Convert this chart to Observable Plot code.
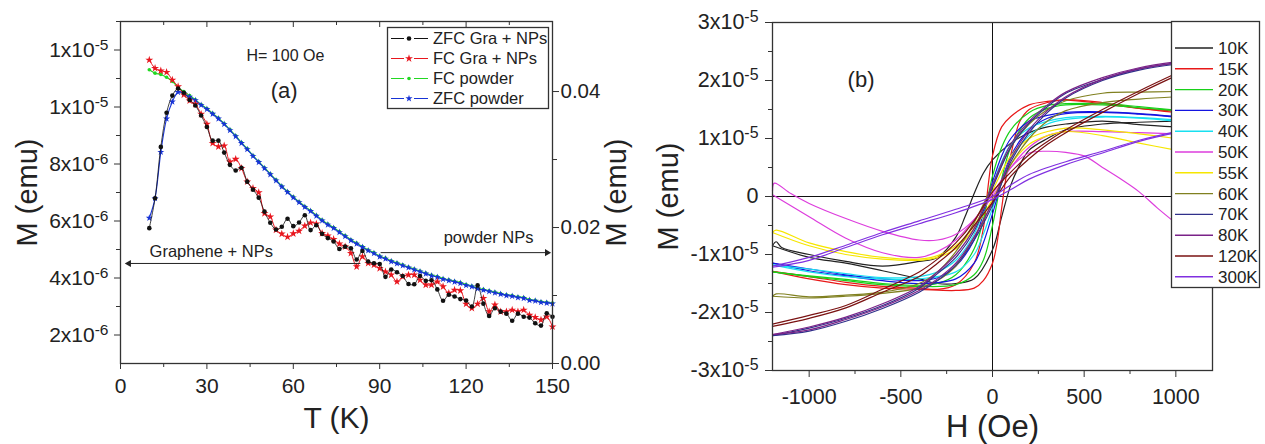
<!DOCTYPE html>
<html><head><meta charset="utf-8">
<script src="https://cdn.jsdelivr.net/npm/d3@7"></script>
<script src="https://cdn.jsdelivr.net/npm/@observablehq/plot@0.6"></script>
<style>
body{margin:0;background:#fff;}
#wrap{position:relative;width:1265px;height:444px;overflow:hidden;background:#fff}
#wrap svg{position:absolute;top:0}
</style></head><body><div id="wrap"></div>
<script>
// ================= DATA : panel (a) =================
const tempsA = [10,12,14,16,18,20,22,24,26,28, 30,32,34,36,38,40,42,44,46,48,
  50,52,54,56,58,60,62,64,66,68, 70,72,74,76,78,80,82,84,86,88,
  90,92,94,96,98,100,102,104,106,108, 110,112,114,116,118,120,122,124,126,128,
  130,132,134,136,138,140,142,144,146,148, 150];
// graphene + NPs (left axis, units of 1e-6 emu)
const zfcGra = [5.75,6.8,8.6,9.8,10.4,10.65,10.5,10.25,10.05,9.7,
  9.3,8.82,8.82,8.4,7.97,7.77,7.87,7.38,7.1,6.82,
  6.33,5.94,5.7,5.8,6.08,5.82,5.95,6.2,5.68,5.85,
  5.55,5.4,5.28,5.02,5.1,5.04,4.65,4.95,4.58,4.52,
  4.49,4.04,4.3,4.2,4.07,3.79,3.78,4.07,3.9,3.92,
  3.6,3.2,3.41,3.35,3.26,3.21,3.0,3.74,3.1,2.67,
  2.94,2.82,2.75,2.5,2.75,2.64,2.61,2.41,2.33,2.76, 2.64];
const fcGra = [11.65,11.36,11.27,11.22,10.95,10.72,10.43,10.22,10.1,9.75,
  9.4,8.73,8.61,8.64,8.08,8.17,7.85,7.38,7.15,7.0,
  6.27,6.15,5.69,5.55,5.44,5.56,5.65,5.83,5.94,5.9,
  5.57,5.48,5.36,5.2,5.1,4.87,4.4,4.75,4.52,4.46,
  4.34,4.22,4.11,3.87,4.05,4.11,4.11,3.93,3.76,3.76,
  3.87,3.7,3.47,3.58,3.56,3.09,2.94,3.09,3.29,2.82,
  3.06,2.82,2.82,2.88,2.82,2.88,2.7,2.62,2.53,2.64, 2.29];
// powder NPs (right axis, emu)
const fcPowder = [0.0432,0.0427,0.0425,0.0421,0.0415,0.0406,0.0400,0.0394,0.0388,0.0381,
  0.0375,0.0368,0.0361,0.0353,0.0344,0.0335,0.0325,0.0316,0.0306,0.0297,
  0.0288,0.0279,0.0270,0.0261,0.0253,0.0245,0.0238,0.0231,0.0225,0.0218,
  0.0211,0.0205,0.0200,0.0194,0.0188,0.0182,0.0177,0.0172,0.0167,0.0163,
  0.0158,0.0155,0.0151,0.0148,0.0145,0.0142,0.0139,0.0136,0.0133,0.0130,
  0.0128,0.0125,0.0123,0.0121,0.0119,0.0116,0.0114,0.0111,0.0109,0.0107,
  0.0105,0.0103,0.0101,0.0100,0.0098,0.0097,0.0094,0.0093,0.0091,0.0090, 0.0089];
const zfcPowder = [0.0214,0.0243,0.0311,0.0360,0.0385,0.0399,0.0397,0.0392,0.0387,0.0380,
  0.0374,0.0367,0.0360,0.0352,0.0343,0.0334,0.0324,0.0315,0.0305,0.0296,
  0.0287,0.0278,0.0269,0.0260,0.0252,0.0244,0.0237,0.0230,0.0224,0.0217,
  0.0210,0.0204,0.0199,0.0193,0.0187,0.0181,0.0176,0.0171,0.0166,0.0162,
  0.0157,0.0154,0.0150,0.0147,0.0144,0.0141,0.0138,0.0135,0.0132,0.0129,
  0.0127,0.0124,0.0122,0.0120,0.0118,0.0115,0.0113,0.0110,0.0108,0.0106,
  0.0104,0.0102,0.0100,0.0099,0.0097,0.0096,0.0093,0.0092,0.0090,0.0089, 0.0088];
const seriesA = ["ZFC Gra + NPs","FC Gra + NPs","FC powder","ZFC powder"];
const xTicksA = [0,30,60,90,120,150];
const xMinorA = [15,45,75,105,135];
const yTicksA = [2,4,6,8,10,12];
const yLabelsA = ["2x10^-6","4x10^-6","6x10^-6","8x10^-6","1x10^-5","1x10^-5"];
const yMinorA = [3,5,7,9,11,13];
const rTicksA = [0,0.02,0.04];
const rMinorA = [0.01,0.03];

// ================= DATA : panel (b)  (H in Oe, M in 1e-5 emu) =================
const loopTemps = ["10K","15K","20K","30K","40K","50K","55K","60K","70K","80K","120K","300K"];
const loop10K_dn = [[1000,1.2],[800,1.24],[600,1.3],[400,1.25],[300,1.2],[200,1.1],[100,0.92],[0,0.63],[-50,0.4],[-100,0.05],[-150,-0.35],[-200,-0.7],[-300,-1.05],[-400,-1.12],[-600,-1.2],[-800,-1.12],[-1000,-1.0],[-1150,-0.88],[-1180,-0.78],[-1200,-0.85]];
const loop10K_up = [[-1200,-0.85],[-1000,-1.05],[-800,-1.15],[-600,-1.28],[-400,-1.42],[-300,-1.5],[-200,-1.5],[-100,-1.42],[0,-0.92],[50,-0.35],[100,0.2],[150,0.55],[200,0.8],[300,1.0],[400,1.15],[600,1.25],[800,1.28],[1000,1.3]];
const loop15K_dn = [[1000,1.47],[800,1.52],[600,1.6],[400,1.66],[300,1.64],[200,1.58],[100,1.38],[50,1.2],[0,0.7],[-25,0.15],[-50,-0.55],[-100,-1.15],[-200,-1.52],[-300,-1.6],[-400,-1.58],[-600,-1.55],[-800,-1.48],[-1000,-1.38],[-1200,-1.29]];
const loop15K_up = [[-1200,-1.29],[-1000,-1.42],[-800,-1.52],[-600,-1.58],[-400,-1.6],[-200,-1.62],[-100,-1.58],[-50,-1.45],[0,-1.15],[25,-0.8],[50,-0.2],[75,0.35],[100,0.72],[150,1.3],[200,1.5],[300,1.62],[400,1.67],[600,1.62],[800,1.52],[1000,1.45]];
const loop20K_dn = [[1000,1.49],[800,1.55],[600,1.6],[400,1.6],[300,1.57],[200,1.45],[100,1.15],[50,0.85],[0,0.35],[-50,-0.4],[-100,-0.9],[-200,-1.35],[-300,-1.5],[-400,-1.53],[-600,-1.5],[-800,-1.43],[-1000,-1.37],[-1200,-1.3]];
const loop20K_up = [[-1200,-1.3],[-1000,-1.38],[-800,-1.45],[-600,-1.52],[-400,-1.55],[-200,-1.52],[-100,-1.35],[-50,-1.1],[0,-0.5],[50,0.3],[100,0.85],[200,1.35],[300,1.52],[400,1.58],[600,1.58],[800,1.53],[1000,1.48]];
const loop30K_dn = [[1000,1.38],[800,1.43],[600,1.46],[400,1.45],[300,1.4],[200,1.3],[100,1.0],[50,0.7],[0,0.25],[-50,-0.3],[-100,-0.75],[-200,-1.2],[-300,-1.4],[-400,-1.45],[-600,-1.42],[-800,-1.35],[-1000,-1.25],[-1200,-1.15]];
const loop30K_up = [[-1200,-1.15],[-1000,-1.28],[-800,-1.37],[-600,-1.45],[-400,-1.5],[-200,-1.42],[-100,-1.15],[-50,-0.8],[0,-0.3],[50,0.25],[100,0.7],[200,1.15],[300,1.35],[400,1.43],[600,1.45],[800,1.42],[1000,1.37]];
const loop40K_dn = [[1000,1.32],[800,1.36],[600,1.38],[400,1.36],[300,1.3],[200,1.18],[100,0.9],[50,0.6],[0,0.2],[-50,-0.25],[-100,-0.65],[-200,-1.1],[-300,-1.3],[-400,-1.38],[-600,-1.4],[-800,-1.33],[-1000,-1.25],[-1200,-1.18]];
const loop40K_up = [[-1200,-1.18],[-1000,-1.3],[-800,-1.38],[-600,-1.42],[-400,-1.42],[-200,-1.3],[-100,-1.0],[-50,-0.65],[0,-0.2],[50,0.25],[100,0.65],[200,1.05],[300,1.25],[400,1.33],[600,1.37],[800,1.35],[1000,1.3]];
const loop50K_dn = [[1000,1.08],[800,1.1],[600,1.12],[400,1.12],[300,1.05],[200,0.85],[100,0.5],[0,0.0],[-100,-0.4],[-200,-0.65],[-300,-0.75],[-400,-0.75],[-600,-0.6],[-800,-0.38],[-1000,-0.12],[-1100,0.05],[-1190,0.23],[-1200,0.1]];
const loop50K_up = [[-1200,0.03],[-1000,-0.35],[-800,-0.72],[-600,-0.97],[-400,-1.05],[-300,-0.95],[-200,-0.75],[-100,-0.4],[0,0.05],[100,0.5],[200,0.75],[300,0.78],[400,0.76],[500,0.7],[600,0.5],[700,0.3],[800,0.08],[900,-0.2],[1000,-0.46]];
const loop55K_dn = [[1000,1.0],[800,1.08],[600,1.15],[400,1.18],[300,1.12],[200,1.0],[100,0.7],[0,0.1],[-100,-0.5],[-200,-0.85],[-300,-1.02],[-400,-1.08],[-600,-1.05],[-800,-0.95],[-1000,-0.8],[-1180,-0.58],[-1200,-0.62]];
const loop55K_up = [[-1200,-0.62],[-1000,-0.85],[-800,-1.0],[-600,-1.08],[-400,-1.1],[-300,-1.05],[-200,-0.9],[-100,-0.55],[0,-0.05],[100,0.55],[200,0.9],[300,1.05],[400,1.12],[600,1.05],[800,0.92],[1000,0.8]];
const loop60K_dn = [[1000,1.81],[800,1.8],[600,1.78],[400,1.65],[300,1.5],[200,1.25],[100,0.85],[0,0.2],[-100,-0.45],[-200,-0.95],[-300,-1.3],[-400,-1.5],[-600,-1.65],[-800,-1.7],[-1000,-1.73],[-1180,-1.68],[-1200,-1.72]];
const loop60K_up = [[-1200,-1.72],[-1000,-1.75],[-800,-1.72],[-600,-1.67],[-400,-1.58],[-300,-1.45],[-200,-1.2],[-100,-0.7],[0,-0.1],[100,0.55],[200,1.0],[300,1.3],[400,1.48],[600,1.62],[800,1.68],[1000,1.72]];
const loop70K_dn = [[1000,2.3],[800,2.2],[600,2.02],[400,1.78],[300,1.55],[200,1.27],[100,0.85],[0,0.15],[-100,-0.6],[-200,-1.05],[-300,-1.33],[-400,-1.58],[-600,-1.88],[-800,-2.1],[-1000,-2.27],[-1200,-2.4]];
const loop70K_up = [[-1200,-2.4],[-1000,-2.32],[-800,-2.15],[-600,-1.93],[-400,-1.65],[-300,-1.45],[-200,-1.18],[-100,-0.75],[0,-0.15],[100,0.6],[200,1.1],[300,1.45],[400,1.7],[600,2.0],[800,2.18],[1000,2.28]];
const loop80K_dn = [[1000,2.32],[800,2.22],[600,2.05],[400,1.8],[300,1.58],[200,1.3],[100,0.9],[0,0.2],[-100,-0.55],[-200,-1.0],[-300,-1.3],[-400,-1.55],[-600,-1.85],[-800,-2.08],[-1000,-2.25],[-1200,-2.38]];
const loop80K_up = [[-1200,-2.38],[-1000,-2.3],[-800,-2.12],[-600,-1.9],[-400,-1.62],[-300,-1.42],[-200,-1.15],[-100,-0.7],[0,-0.1],[100,0.65],[200,1.15],[300,1.48],[400,1.72],[600,2.02],[800,2.2],[1000,2.3]];
const loop120K_dn = [[1000,2.12],[800,1.82],[600,1.5],[400,1.15],[300,0.95],[200,0.72],[100,0.42],[0,0.08],[-100,-0.42],[-200,-0.8],[-300,-1.08],[-400,-1.3],[-600,-1.6],[-800,-1.88],[-1000,-2.05],[-1200,-2.2]];
const loop120K_up = [[-1200,-2.24],[-1000,-2.1],[-800,-1.92],[-600,-1.65],[-400,-1.38],[-300,-1.15],[-200,-0.88],[-100,-0.5],[0,-0.1],[100,0.35],[200,0.65],[300,0.9],[400,1.1],[600,1.45],[800,1.78],[1000,2.08]];
const loop300K_dn = [[1000,1.12],[800,0.97],[600,0.78],[400,0.6],[200,0.38],[100,0.2],[0,0.0],[-200,-0.22],[-400,-0.42],[-600,-0.62],[-800,-0.84],[-1000,-1.05],[-1200,-1.2]];
const loop300K_up = [[-1200,-1.22],[-1000,-1.1],[-800,-0.88],[-600,-0.66],[-400,-0.47],[-200,-0.28],[0,-0.05],[100,0.12],[200,0.3],[400,0.55],[600,0.75],[800,0.95],[1000,1.1]];
const xTicksB = [-1000,-500,0,500,1000];
const xMinorB = [-750,-250,250,750];
const yTicksB = [-3,-2,-1,0,1,2,3];
const yLabelsB = ["-3x10^-5","-2x10^-5","-1x10^-5","0","1x10^-5","2x10^-5","3x10^-5"];
const yMinorB = [-2.5,-1.5,-0.5,0.5,1.5,2.5];

// ================= STYLE =================
const FONT = '"Liberation Sans", Arial, Helvetica, sans-serif';
const TXT = "#222", AX = "#333";
const colA = {"ZFC Gra + NPs":"#111111","FC Gra + NPs":"#e8161e","FC powder":"#22d822","ZFC powder":"#1733d6"};
const colB = {"10K":"#222222","15K":"#e81818","20K":"#18d018","30K":"#1414e0","40K":"#18e0f0","50K":"#dd3ddd",
  "55K":"#f6e600","60K":"#808020","70K":"#30308a","80K":"#7a2288","120K":"#7a1212","300K":"#8030e0"};
const loopsB = {"10K":[loop10K_dn,loop10K_up],"15K":[loop15K_dn,loop15K_up],"20K":[loop20K_dn,loop20K_up],
  "30K":[loop30K_dn,loop30K_up],"40K":[loop40K_dn,loop40K_up],"50K":[loop50K_dn,loop50K_up],
  "55K":[loop55K_dn,loop55K_up],"60K":[loop60K_dn,loop60K_up],"70K":[loop70K_dn,loop70K_up],
  "80K":[loop80K_dn,loop80K_up],"120K":[loop120K_dn,loop120K_up],"300K":[loop300K_dn,loop300K_up]};

function supify(svg){
  const ns = "http://www.w3.org/2000/svg";
  svg.querySelectorAll("text").forEach(t=>{
    const s = t.textContent;
    if (!s.includes("^")) return;
    const [base, exp] = s.split("^");
    while (t.firstChild) t.removeChild(t.firstChild);
    const a = document.createElementNS(ns,"tspan"); a.textContent = base; t.appendChild(a);
    const b = document.createElementNS(ns,"tspan"); b.textContent = exp;
    b.setAttribute("dy","-0.45em"); b.setAttribute("font-size","0.74em"); t.appendChild(b);
  });
}

const wrap = document.getElementById("wrap");

// ================= PANEL (a) =================
const Y0 = 1.0, Y1 = 13.0, R1 = 0.0503;        // left domain (1e-6 emu), right domain top (emu)
const toLeft = v => Y0 + v / R1 * (Y1 - Y0);
const fromLeft = y => (y - Y0) / (Y1 - Y0) * R1;
const mk = (vals, conv) => tempsA.map((t,i)=>({T:t, y:conv(vals[i])}));
const dZG = mk(zfcGra, v=>v), dFG = mk(fcGra, v=>v), dFP = mk(fcPowder, toLeft), dZP = mk(zfcPowder, toLeft);
const cv = "catmull-rom";
const ARR = "#222";

const plotA = Plot.plot({
  width: 632, height: 444,
  marginLeft: 120, marginRight: 80, marginTop: 21, marginBottom: 81,
  style: {fontFamily: FONT, color: TXT, background: "transparent", overflow: "visible"},
  x: {domain: [0,150], label: null},
  y: {domain: [Y0,Y1], label: null},
  marks: [
    Plot.line(dFP, {x:"T", y:"y", stroke: colA["FC powder"], strokeWidth: 1.1, curve: cv}),
    Plot.dot(dFP, {x:"T", y:"y", r: 1.8, fill: colA["FC powder"], stroke: "none"}),
    Plot.line(dZP, {x:"T", y:"y", stroke: colA["ZFC powder"], strokeWidth: 1.1, curve: cv}),
    Plot.dot(dZP, {x:"T", y:"y", r: 2.2, symbol: "star", fill: colA["ZFC powder"], stroke: "none"}),
    Plot.line(dFG, {x:"T", y:"y", stroke: colA["FC Gra + NPs"], strokeWidth: 1, curve: cv}),
    Plot.dot(dFG, {x:"T", y:"y", r: 2.5, symbol: "star", fill: colA["FC Gra + NPs"], stroke: "none"}),
    Plot.line(dZG, {x:"T", y:"y", stroke: colA["ZFC Gra + NPs"], strokeWidth: 0.8, curve: cv}),
    Plot.dot(dZG, {x:"T", y:"y", r: 2.3, fill: colA["ZFC Gra + NPs"], stroke: "none"}),
    Plot.frame({stroke: AX, strokeWidth: 1.3}),
    Plot.axisX(xTicksA, {anchor:"bottom", tickSize: 6, tickPadding: 9, fontSize: 21, stroke: AX, fill: TXT, tickFormat: d=>String(d), label: null}),
    Plot.axisX(xMinorA, {anchor:"bottom", tickSize: 4, stroke: AX, tickFormat: ()=>"", label: null}),
    Plot.tickX(xTicksA, {x: d=>d, insetBottom: 336, stroke: AX}),
    Plot.tickX(xMinorA, {x: d=>d, insetBottom: 338, stroke: AX}),
    Plot.axisY(yTicksA, {anchor:"left", tickSize: 6, tickPadding: 6, fontSize: 21, stroke: AX, fill: TXT, tickFormat: d=>yLabelsA[yTicksA.indexOf(d)], label: null}),
    Plot.axisY(yMinorA, {anchor:"left", tickSize: 4, stroke: AX, tickFormat: ()=>"", label: null}),
    Plot.axisY(rTicksA.map(toLeft), {anchor:"right", tickSize: 6, tickPadding: 2, fontSize: 20.5, stroke: AX, fill: TXT, tickFormat: d=>fromLeft(d).toFixed(2), label: null}),
    Plot.axisY(rMinorA.map(toLeft), {anchor:"right", tickSize: 4, stroke: AX, tickFormat: ()=>"", label: null}),
    // annotations
    Plot.text(["H= 100 Oe"], {x: 43.75, y: 11.8, text: d=>d, textAnchor: "start", fontSize: 16, fill: TXT}),
    Plot.text(["(a)"], {x: 56.8, y: 10.58, text: d=>d, fontSize: 22, fill: TXT}),
    Plot.text(["Graphene + NPs"], {x: 10.1, y: 4.93, text: d=>d, textAnchor: "start", fontSize: 16.5, fill: TXT}),
    Plot.link([0], {x1: 83.3, y1: 4.51, x2: 2.5, y2: 4.51, stroke: ARR, strokeWidth: 1}),
    Plot.dot([0], {x: 2.9, y: 4.51, symbol: "triangle2", rotate: -90, r: 3.4, fill: ARR, stroke: "none"}),
    Plot.text(["powder NPs"], {x: 112.2, y: 5.42, text: d=>d, textAnchor: "start", fontSize: 16.5, fill: TXT}),
    Plot.link([0], {x1: 90.3, y1: 4.89, x2: 148.5, y2: 4.89, stroke: ARR, strokeWidth: 1}),
    Plot.dot([0], {x: 148.1, y: 4.89, symbol: "triangle2", rotate: 90, r: 3.4, fill: ARR, stroke: "none"}),
    // axis titles
    Plot.text(["M (emu)"], {frameAnchor: "left", dx: -93, rotate: -90, text: d=>d, textAnchor: "middle", lineAnchor: "middle", fontSize: 29, fill: TXT}),
    Plot.text(["M (emu)"], {frameAnchor: "right", dx: 64, rotate: -90, text: d=>d, textAnchor: "middle", lineAnchor: "middle", fontSize: 29, fill: TXT}),
    Plot.text(["T (K)"], {frameAnchor: "bottom", dy: 55, text: d=>d, textAnchor: "middle", lineAnchor: "middle", fontSize: 30, fill: TXT})
  ]
});
supify(plotA);
plotA.style.left = "0px";
wrap.appendChild(plotA);

// ================= PANEL (b) =================
const rowsB = [];
loopTemps.forEach(k => {
  loopsB[k].forEach((br, bi) => br.forEach(([h,m]) => rowsB.push({key: k + "_" + bi, T: k, H: h, M: m, color: colB[k]})));
});

const plotB = Plot.plot({
  width: 633, height: 444,
  marginLeft: 140, marginRight: 53, marginTop: 22, marginBottom: 74,
  style: {fontFamily: FONT, color: TXT, background: "transparent", overflow: "visible"},
  x: {domain: [-1200,1200], label: null},
  y: {domain: [-3,3], label: null},
  color: {type: "identity"},
  marks: [
    Plot.ruleX([0], {stroke: "#111", strokeWidth: 1}),
    Plot.ruleY([0], {stroke: "#111", strokeWidth: 1}),
    Plot.line(rowsB, {x:"H", y:"M", z:"key", stroke:"color", strokeWidth: 1.2, curve: cv}),
    Plot.frame({stroke: AX, strokeWidth: 1.3}),
    Plot.axisX(xTicksB, {anchor:"bottom", tickSize: 7, tickPadding: 11, fontSize: 21.5, stroke: AX, fill: TXT, tickFormat: d=>String(d), label: null}),
    Plot.axisX(xMinorB, {anchor:"bottom", tickSize: 4, stroke: AX, tickFormat: ()=>"", label: null}),
    Plot.axisY(yTicksB, {anchor:"left", tickSize: 7, tickPadding: 7, fontSize: 21.5, stroke: AX, fill: TXT, tickFormat: d=>yLabelsB[yTicksB.indexOf(d)], label: null}),
    Plot.axisY(yMinorB, {anchor:"left", tickSize: 4, stroke: AX, tickFormat: ()=>"", label: null}),
    Plot.text(["(b)"], {x: -717, y: 2.01, text: d=>d, fontSize: 22, fill: TXT}),
    Plot.text(["M (emu)"], {frameAnchor: "left", dx: -104, rotate: -90, text: d=>d, textAnchor: "middle", lineAnchor: "middle", fontSize: 29, fill: TXT}),
    Plot.text(["H (Oe)"], {frameAnchor: "bottom", dy: 57, text: d=>d, textAnchor: "middle", lineAnchor: "middle", fontSize: 31, fill: TXT})
  ]
});
supify(plotB);
plotB.style.left = "632px";
wrap.appendChild(plotB);

// ================= LEGENDS (overlay) =================
const ov = d3.select(wrap).append("svg").attr("width",1265).attr("height",444)
  .style("left","0px").style("font-family",FONT);
// legend (a)
ov.append("rect").attr("x",387.5).attr("y",27.5).attr("width",161).attr("height",81)
  .attr("fill","#fff").attr("stroke",AX).attr("stroke-width",1.3);
const symA = {"ZFC Gra + NPs":[d3.symbolCircle,2.3],"FC Gra + NPs":[d3.symbolStar,2.5],"FC powder":[d3.symbolCircle,1.8],"ZFC powder":[d3.symbolStar,2.2]};
seriesA.forEach((s,i)=>{
  const cy = 38.5 + i*20;
  const g = ov.append("g");
  g.append("line").attr("x1",391).attr("x2",404).attr("y1",cy).attr("y2",cy).attr("stroke",colA[s]).attr("stroke-width",1);
  g.append("line").attr("x1",414).attr("x2",428).attr("y1",cy).attr("y2",cy).attr("stroke",colA[s]).attr("stroke-width",1);
  const [sym,r] = symA[s];
  g.append("path").attr("d", d3.symbol(sym, Math.PI*r*r)()).attr("transform",`translate(409,${cy})`).attr("fill",colA[s]);
  g.append("text").attr("x",433).attr("y",cy).attr("dy","0.35em").attr("font-size",16.5).attr("fill",TXT).text(s);
});
// legend (b)
ov.append("rect").attr("x",1171.5).attr("y",21.5).attr("width",88).attr("height",266)
  .attr("fill","#fff").attr("stroke",AX).attr("stroke-width",1.3);
loopTemps.forEach((k,i)=>{
  const cy = 48 + i*20.8;
  ov.append("line").attr("x1",1175).attr("x2",1213).attr("y1",cy).attr("y2",cy).attr("stroke",colB[k]).attr("stroke-width",1.4);
  ov.append("text").attr("x",1218).attr("y",cy).attr("dy","0.35em").attr("font-size",17).attr("fill",TXT).text(k);
});
</script></body></html>
